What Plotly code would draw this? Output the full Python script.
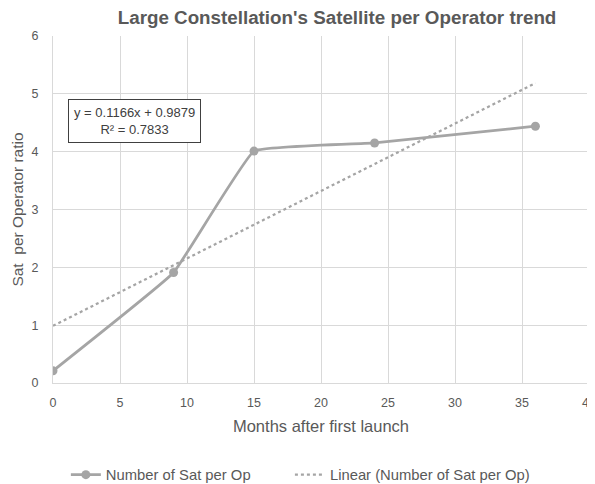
import plotly.graph_objects as go

months = [0, 9, 15, 24, 36]
sat_per_op = [0.21, 1.91, 4.01, 4.15, 4.44]
slope = 0.1166
intercept = 0.9879
r2 = 0.7833
trend_x = [0, 36]
trend_y = [intercept + slope * x for x in trend_x]

grey = "#A5A5A5"
txt = "#595959"
font = "Liberation Sans, Arial, sans-serif"

fig = go.Figure()
fig.add_trace(go.Scatter(
    x=months, y=sat_per_op, mode="lines+markers",
    name="Number of Sat per Op",
    line=dict(color=grey, width=2.75, shape="spline", smoothing=0.25),
    marker=dict(color=grey, size=9),
    legend="legend",
))
fig.add_trace(go.Scatter(
    x=trend_x, y=trend_y, mode="lines",
    name="Linear (Number of Sat per Op)",
    line=dict(color=grey, width=2.25, dash="dot"),
    legend="legend2",
))

fig.add_annotation(
    x=6.1, y=4.53, xref="x", yref="y",
    text=f"y = {slope}x + {intercept}<br>R² = {r2}",
    showarrow=False, font=dict(family=font, size=13, color="#404040"),
    bordercolor="#404040", borderwidth=1, borderpad=5, bgcolor="white",
    align="center",
)

legend_common = dict(orientation="h", xanchor="left", yref="container",
                     y=0.035, yanchor="middle", font=dict(size=14.8, color=txt))

# page body has an 8px default margin, margins compensate for it
fig.update_layout(
    width=595, height=484,
    margin=dict(l=45, r=14, t=28, b=109),
    paper_bgcolor="white", plot_bgcolor="white",
    title=dict(text="<b>Large Constellation's Satellite per Operator trend</b>",
               x=0.553, xanchor="center", y=0.981, yanchor="middle",
               font=dict(family=font, size=18.8, color=txt)),
    font=dict(family=font, color=txt),
    xaxis=dict(range=[0, 40], dtick=5, showgrid=True, gridcolor="#D9D9D9",
               zeroline=False, showline=True, linecolor="#D9D9D9",
               ticks="", tickfont=dict(size=12.5, color=txt),
               ticklabelstandoff=8, ticklabeloverflow="allow", automargin=False,
               title=dict(text="Months after first launch",
                          font=dict(size=16.5, color=txt), standoff=11)),
    yaxis=dict(range=[0, 6], dtick=1, showgrid=True, gridcolor="#D9D9D9",
               zeroline=False, showline=True, linecolor="#D9D9D9",
               ticks="", tickfont=dict(size=12.5, color=txt),
               ticklabelstandoff=11, automargin=False,
               title=dict(text="Sat  per Operator ratio",
                          font=dict(size=15.5, color=txt), standoff=4)),
    legend=dict(x=0.024, **legend_common),
    legend2=dict(x=0.442, **legend_common),
    showlegend=True,
)

fig.write_html("out.html")
